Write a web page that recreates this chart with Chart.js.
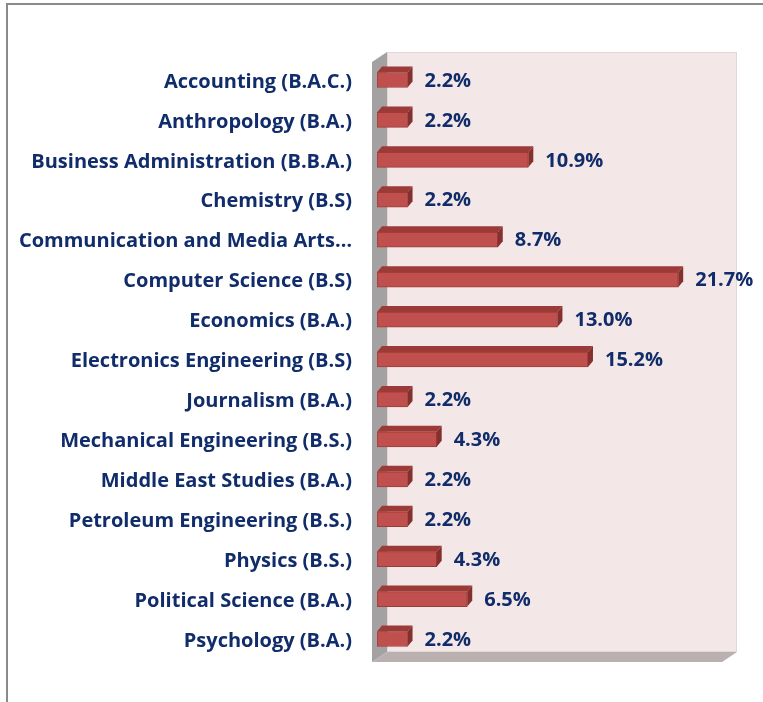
<!DOCTYPE html>
<html>
<head>
<meta charset="utf-8">
<script src="https://cdn.jsdelivr.net/npm/chart.js@4/dist/chart.umd.min.js"></script>
<style>
  body { margin: 0; background: #fff; }
  #wrap { width: 763px; height: 702px; }
</style>
</head>
<body>
<div id="wrap"><canvas id="myChart" width="763" height="702"></canvas></div>
<script>
// majors and their share of students
const majors = [
  "Accounting (B.A.C.)",
  "Anthropology (B.A.)",
  "Business Administration (B.B.A.)",
  "Chemistry (B.S)",
  "Communication and Media Arts…",
  "Computer Science (B.S)",
  "Economics (B.A.)",
  "Electronics Engineering (B.S)",
  "Journalism (B.A.)",
  "Mechanical Engineering (B.S.)",
  "Middle East Studies (B.A.)",
  "Petroleum Engineering (B.S.)",
  "Physics (B.S.)",
  "Political Science (B.A.)",
  "Psychology (B.A.)"
];
const shares = [2.2, 2.2, 10.9, 2.2, 8.7, 21.7, 13.0, 15.2, 2.2, 4.3, 2.2, 2.2, 4.3, 6.5, 2.2];
const axisMin = 0;
const axisMax = 25;

const navy = "#112c6b";
const fontFamily = "'Open Sans', Lato, sans-serif";
const labelFont = "bold 20px " + fontFamily;

/* 3D look: walls behind, top and side faces on the bars, value labels */
const threeD = {
  id: "threeD",
  beforeDraw(chart) {
    const ctx = chart.ctx;
    const a = chart.chartArea;
    // outer frame
    ctx.save();
    ctx.strokeStyle = "#8a8a8a";
    ctx.lineWidth = 2;
    ctx.beginPath();
    ctx.moveTo(7, 702);
    ctx.lineTo(7, 4);
    ctx.lineTo(763, 4);
    ctx.stroke();

    const L = a.left - 5, R = a.right - 2, T = a.top + 2, B = a.bottom + 3;
    const dx = 15, dy = -10;
    // back wall
    ctx.fillStyle = "#f3e7e7";
    ctx.fillRect(L + dx, T + dy, R - L, B - T);
    ctx.strokeStyle = "#e2d6d6";
    ctx.lineWidth = 1;
    ctx.strokeRect(L + dx + 0.5, T + dy + 0.5, R - L - 1, B - T - 1);
    // left wall
    ctx.fillStyle = "#a3a1a1";
    ctx.beginPath();
    ctx.moveTo(L, T); ctx.lineTo(L + dx, T + dy);
    ctx.lineTo(L + dx, B + dy); ctx.lineTo(L, B);
    ctx.closePath(); ctx.fill();
    // floor
    ctx.fillStyle = "#bab0b0";
    ctx.beginPath();
    ctx.moveTo(L, B); ctx.lineTo(L + dx, B + dy);
    ctx.lineTo(R + dx, B + dy); ctx.lineTo(R, B);
    ctx.closePath(); ctx.fill();
    ctx.restore();
  },
  afterDatasetsDraw(chart) {
    const ctx = chart.ctx;
    const meta = chart.getDatasetMeta(0);
    const ddx = 5, ddy = -6;
    ctx.save();
    meta.data.forEach((bar, i) => {
      const p = bar.getProps(["x", "y", "base", "height"], true);
      const top = p.y - p.height / 2, bot = p.y + p.height / 2;
      // top face
      ctx.fillStyle = "#9c3a37";
      ctx.beginPath();
      ctx.moveTo(p.base, top); ctx.lineTo(p.x, top);
      ctx.lineTo(p.x + ddx, top + ddy); ctx.lineTo(p.base + ddx, top + ddy);
      ctx.closePath(); ctx.fill();
      // right face
      ctx.fillStyle = "#85302e";
      ctx.beginPath();
      ctx.moveTo(p.x, top); ctx.lineTo(p.x + ddx, top + ddy);
      ctx.lineTo(p.x + ddx, bot + ddy); ctx.lineTo(p.x, bot);
      ctx.closePath(); ctx.fill();
      // value label
      ctx.fillStyle = navy;
      ctx.font = labelFont;
      ctx.textAlign = "left";
      ctx.textBaseline = "middle";
      ctx.fillText(shares[i].toFixed(1) + "%", p.x + ddx + 12, p.y + 1);
    });
    ctx.restore();
  }
};

new Chart(document.getElementById("myChart"), {
  type: "bar",
  data: {
    labels: majors,
    datasets: [{
      data: shares,
      backgroundColor: "#c0504d",
      borderColor: "#9e3c39",
      borderWidth: 1,
      borderSkipped: false,
      barThickness: 15
    }]
  },
  options: {
    indexAxis: "y",
    responsive: false,
    animation: false,
    layout: { padding: { left: 0, top: 60, right: 39, bottom: 43 } },
    plugins: { legend: { display: false }, tooltip: { enabled: false } },
    scales: {
      x: { display: false, min: axisMin, max: axisMax },
      y: {
        afterFit(axis) { axis.width = 377; },
        grid: { display: false, drawTicks: false },
        border: { display: false },
        ticks: {
          padding: 25,
          labelOffset: 2,
          color: navy,
          font: { family: fontFamily, size: 20, weight: "bold" }
        }
      }
    }
  },
  plugins: [threeD]
});
</script>
</body>
</html>
